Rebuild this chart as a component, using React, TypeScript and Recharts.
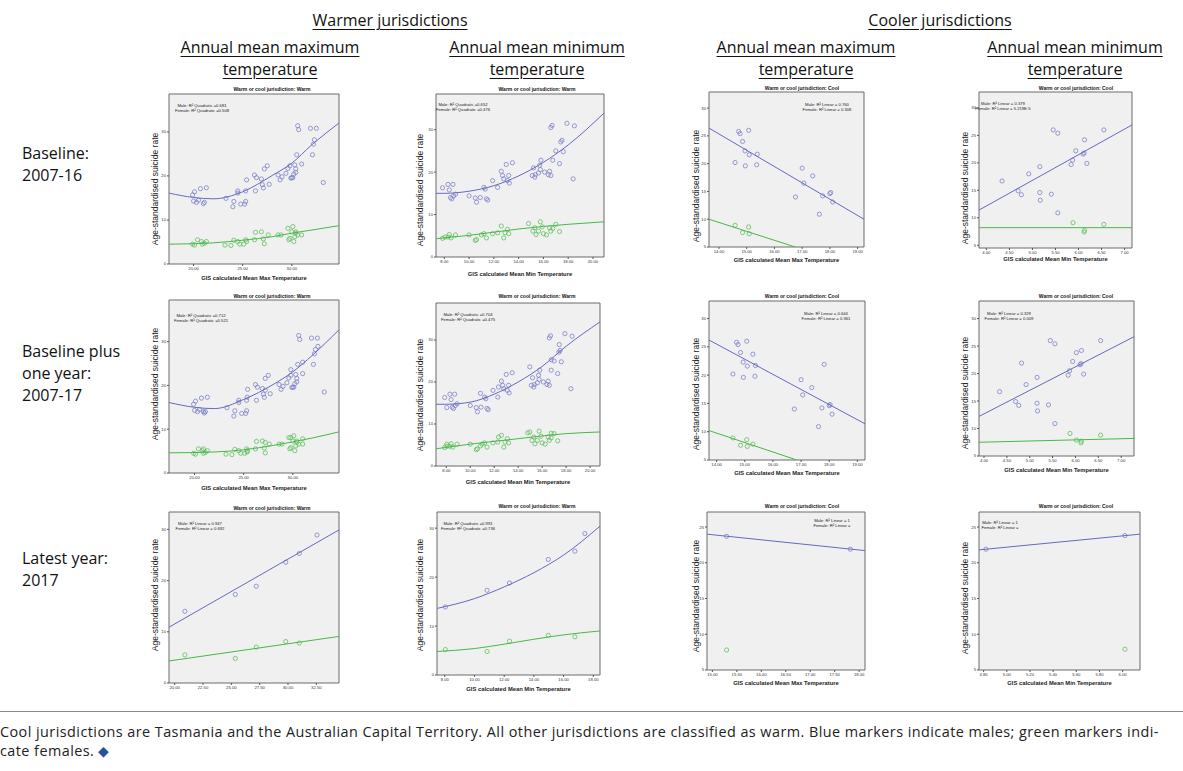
import React from 'react';
import { ScatterChart, Scatter, XAxis, YAxis, ReferenceArea } from 'recharts';

// ---- data: [temperature, rate] ----

// Baseline 2007-16, warm, max temp
const baseWarmMaxMale = [
  [19.9, 15.7], [20.1, 16.4], [20.7, 17.1], [21.3, 17.3], [20.0, 14.3], [20.3, 14.0], [20.5, 14.5], [21.0, 13.7], [21.1, 14.0],
  [23.3, 14.9], [24.0, 13.0], [24.1, 14.2], [24.5, 16.1], [24.5, 16.6], [24.8, 13.6], [25.2, 13.6], [25.3, 14.2], [25.3, 16.6], [25.4, 19.1],
  [26.3, 16.6], [26.2, 20.2], [26.4, 19.6], [26.9, 19.3], [27.0, 18.0], [27.1, 17.3], [27.2, 21.6], [27.5, 22.3], [27.7, 18.1],
  [28.6, 20.2], [28.8, 19.1], [29.0, 19.8], [29.4, 20.6], [29.6, 21.7], [29.8, 22.3], [29.9, 19.5], [30.0, 19.6], [30.1, 19.6],
  [30.2, 20.4], [30.3, 22.5], [30.4, 21.6], [30.4, 20.8], [30.5, 24.8], [30.6, 31.4], [30.7, 30.5], [31.0, 22.7], [31.9, 30.8],
  [32.1, 24.8], [32.2, 27.2], [32.3, 28.2], [32.5, 30.8], [33.2, 18.5],
];
const baseWarmMaxFemale = [
  [19.9, 4.5], [20.1, 4.3], [20.4, 5.5], [20.8, 5.1], [21.1, 4.7], [21.3, 5.1], [20.9, 4.5], [23.2, 4.3], [23.8, 4.2],
  [24.1, 5.4], [24.5, 5.1], [24.7, 4.5], [25.1, 4.5], [25.3, 5.5], [25.4, 5.1], [26.2, 5.5], [26.3, 7.2], [26.9, 7.3],
  [27.1, 5.7], [27.2, 4.6], [27.6, 6.6], [28.6, 6.6], [28.9, 6.6], [29.6, 8.1], [29.7, 5.5], [29.8, 5.8], [30.0, 7.3],
  [30.1, 8.5], [30.2, 5.1], [30.3, 6.2], [30.4, 7.0], [30.4, 7.3], [30.6, 6.6], [31.0, 6.6],
];

// Baseline 2007-16, warm, min temp
const baseWarmMinMale = [
  [7.86, 16.3], [8.3, 17.1], [8.4, 15.8], [8.5, 14.0], [8.6, 13.7], [8.7, 17.1], [8.75, 14.4], [8.9, 14.8],
  [10.0, 14.4], [10.5, 13.9], [10.6, 12.9], [10.9, 14.0], [11.2, 16.4], [11.3, 16.0], [11.4, 13.7], [11.5, 13.4],
  [11.9, 18.0], [12.3, 16.4], [12.6, 20.2], [12.7, 19.2], [12.8, 18.4], [13.0, 21.8], [13.1, 18.0], [13.2, 19.2],
  [13.25, 17.4], [13.5, 22.2], [15.1, 19.2], [15.2, 21.0], [15.3, 18.8], [15.35, 19.4], [15.6, 19.8], [15.7, 21.6],
  [15.75, 20.6], [15.8, 22.8], [16.1, 20.0], [16.4, 19.4], [16.5, 20.2], [16.6, 19.2], [16.6, 30.5], [16.7, 31.0],
  [16.75, 22.8], [17.0, 25.0], [17.3, 22.0], [17.4, 27.1], [17.5, 27.5], [17.6, 24.8], [17.9, 31.5], [18.4, 18.4], [18.5, 30.9],
];
const baseWarmMinFemale = [
  [7.86, 4.4], [8.06, 4.7], [8.3, 4.7], [8.4, 5.3], [8.55, 4.5], [8.9, 5.2], [10.0, 5.2], [10.5, 3.9], [10.6, 4.1],
  [11.0, 5.2], [11.2, 5.5], [11.4, 4.5], [11.9, 5.5], [12.3, 5.7], [12.6, 7.3], [12.8, 4.5], [12.9, 5.7], [13.1, 6.5],
  [13.2, 5.5], [14.8, 7.9], [15.15, 6.1], [15.3, 6.9], [15.4, 5.3], [15.6, 6.1], [15.75, 8.3], [15.9, 7.1], [16.0, 5.5],
  [16.25, 5.2], [16.5, 6.9], [16.6, 6.1], [16.75, 6.7], [17.0, 7.7], [17.3, 6.0],
];

// Baseline 2007-16, cool, max temp
const baseCoolMaxMale = [
  [14.71, 25.8], [14.76, 25.4], [14.85, 24.0], [14.94, 22.3], [14.58, 20.2], [14.95, 19.6], [15.07, 26.0], [15.09, 21.6],
  [15.38, 21.7], [15.36, 19.8], [16.76, 14.0], [17.0, 19.2], [17.06, 16.5], [17.38, 17.8], [17.62, 10.9], [17.74, 14.2],
  [18.0, 14.6], [18.03, 14.8], [18.1, 13.1],
];
const baseCoolMaxFemale = [[14.58, 8.9], [14.85, 7.6], [15.07, 8.6], [15.09, 7.4]];

// Baseline 2007-16, cool, min temp
const baseCoolMinMale = [
  [4.34, 16.7], [4.69, 14.9], [4.76, 14.2], [4.92, 18.0], [5.16, 19.3], [5.16, 14.6], [5.17, 13.2], [5.41, 14.3],
  [5.45, 26.0], [5.55, 25.4], [5.55, 10.9], [5.84, 19.7], [5.87, 20.5], [5.94, 22.2], [6.1, 21.6], [6.12, 21.8],
  [6.13, 24.2], [6.18, 19.9], [6.55, 26.0],
];
const baseCoolMinFemale = [[5.88, 9.1], [6.12, 7.4], [6.13, 7.7], [6.55, 8.8]];

// Latest year 2017
const lastWarmMaxMale = [[20.9, 14.0], [25.35, 17.3], [27.2, 18.9], [29.8, 23.6], [31.0, 25.3], [32.56, 28.9]];
const lastWarmMaxFemale = [[20.9, 5.5], [25.35, 4.8], [27.2, 7.0], [29.8, 8.1], [31.0, 7.8]];
const lastWarmMinMale = [[8.04, 13.9], [10.85, 17.3], [12.36, 18.8], [14.97, 23.6], [16.76, 25.3], [17.43, 28.9]];
const lastWarmMinFemale = [[8.04, 5.2], [10.85, 4.8], [12.36, 6.9], [14.97, 8.1], [16.76, 7.8]];
const lastCoolMaxMale = [[15.29, 23.7], [17.82, 21.9]];
const lastCoolMaxFemale = [[15.29, 7.8]];
const lastCoolMinMale = [[4.82, 21.9], [6.02, 23.8]];
const lastCoolMinFemale = [[6.02, 7.9]];

// fitted lines (read at a few x positions)
const fitBaseWarmMaxMale = [[17.5, 16.1], [20, 15.1], [22, 14.8], [25, 16.4], [28, 20.1], [30, 22.9], [32, 27.0], [34.8, 32.0]];
const fitBaseWarmMaxFemale = [[17.5, 4.5], [22, 4.8], [25, 5.4], [28, 6.2], [30, 7.0], [32, 7.7], [34.8, 8.7]];
const fitBaseWarmMinMale = [[7.33, 15.0], [8, 15.0], [10, 15.5], [12, 16.8], [14, 19.1], [16, 22.3], [18, 26.4], [20.89, 33.9]];
const fitBaseWarmMinFemale = [[7.33, 4.3], [10, 5.1], [14, 6.6], [18, 7.7], [20.89, 8.3]];
const fitBaseCoolMaxMale = [[13.64, 26.4], [19.23, 10.0]];
const fitBaseCoolMaxFemale = [[13.64, 10.0], [16.75, 5.0]];
const fitBaseCoolMinMale = [[3.84, 11.4], [7.16, 26.9]];
const fitBaseCoolMinFemale = [[3.84, 8.2], [7.16, 8.2]];

const fitPlusWarmMaxMale = [[17.4, 16.1], [20, 15.0], [22, 14.7], [25, 16.8], [28, 20.2], [30, 23.1], [32, 26.9], [34.7, 32.7]];
const fitPlusWarmMaxFemale = [[17.4, 4.6], [22, 4.8], [25, 5.3], [28, 6.3], [30, 7.1], [32, 8.0], [34.7, 9.4]];
const fitPlusWarmMinMale = [[7.14, 14.7], [8, 14.7], [10, 15.2], [12, 17.1], [14, 20.0], [16, 23.7], [18, 28.5], [20.83, 34.3]];
const fitPlusWarmMinFemale = [[7.14, 4.1], [10, 5.2], [14, 6.5], [18, 7.7], [20.83, 8.1]];
const fitPlusCoolMaxMale = [[13.73, 26.2], [19.27, 11.4]];
const fitPlusCoolMaxFemale = [[13.73, 10.2], [16.85, 5.0]];
const fitPlusCoolMinMale = [[3.89, 12.2], [7.28, 26.7]];
const fitPlusCoolMinFemale = [[3.89, 7.5], [7.28, 8.2]];

const fitLastWarmMaxMale = [[19.5, 10.9], [34.5, 29.9]];
const fitLastWarmMaxFemale = [[19.5, 4.3], [34.5, 9.1]];
const fitLastWarmMinMale = [[7.48, 13.6], [10, 15.6], [12, 18.0], [14, 20.9], [16, 24.5], [18.45, 30.4]];
const fitLastWarmMinFemale = [[7.48, 4.8], [10, 5.4], [12, 6.3], [14, 7.3], [16, 8.2], [18.45, 9.0]];
const fitLastCoolMaxMale = [[14.89, 24.0], [18.12, 21.7]];
const fitLastCoolMinMale = [[4.76, 21.8], [6.15, 24.0]];

// tick labels
const warmMaxTicks = [20, 25, 30];
const warmMinTicks = [8, 10, 12, 14, 16, 18, 20];
const coolMaxTicks = [14, 15, 16, 17, 18, 19];
const coolMinTicks = [4, 4.5, 5, 5.5, 6, 6.5, 7];
const lastWarmMaxTicks = [20, 22.5, 25, 27.5, 30, 32.5];
const lastWarmMinTicks = [8, 10, 12, 14, 16, 18];
const lastCoolMaxTicks = [15, 15.5, 16, 16.5, 17, 17.5, 18];
const lastCoolMinTicks = [4.8, 5.0, 5.2, 5.4, 5.6, 5.8, 6.0];
const warmYTicks = [0, 10, 20, 30];
const coolYTicks = [5, 10, 15, 20, 25, 30];
const lastCoolYTicks = [5, 10, 15, 20, 25];

const pts = (a: number[][]) => a.map(([x, y]) => ({ x, y }));

const MALE = '#7e82c9';
const MALE_LINE = '#6569c0';
const FEMALE = '#5fbf5f';
const FEMALE_LINE = '#46b946';
const SPSS_FONT = "'Liberation Sans', Arial, sans-serif";
const HEAD_FONT = "'Open Sans', 'Noto Sans', sans-serif";

const WARM = 'Warm or cool jurisdiction: Warm';
const COOL = 'Warm or cool jurisdiction: Cool';
const MAX_T = 'GIS calculated Mean Max Temperature';
const MIN_T = 'GIS calculated Mean Min Temperature';

const colCenter = [272, 537, 802, 1076];
const yLabelX = [155, 420, 696, 965];

const panels = [
  // row 1
  { col: 0, frame: [169, 94, 339, 264], xd: [17.5, 34.8], xt: warmMaxTicks, yd: [0, 38.6], yt: warmYTicks,
    male: baseWarmMaxMale, female: baseWarmMaxFemale, mFit: fitBaseWarmMaxMale, fFit: fitBaseWarmMaxFemale, curved: true,
    title: WARM, titleY: 89, note: ['Male: R² Quadratic =0.681', 'Female: R² Quadratic =0.508'], noteX: 202, noteY: 105,
    xTitle: MAX_T, xTitleY: 278, yLabelY: 189 },
  { col: 1, frame: [436, 94, 604, 257], xd: [7.33, 20.89], xt: warmMinTicks, yd: [0, 38.4], yt: warmYTicks,
    male: baseWarmMinMale, female: baseWarmMinFemale, mFit: fitBaseWarmMinMale, fFit: fitBaseWarmMinFemale, curved: true,
    title: WARM, titleY: 89, note: ['Male: R² Quadratic =0.652', 'Female: R² Quadratic =0.476'], noteX: 463, noteY: 104,
    xTitle: MIN_T, xTitleY: 274, yLabelY: 190 },
  { col: 2, frame: [709, 92, 864, 247], xd: [13.64, 19.23], xt: coolMaxTicks, yd: [5, 32.9], yt: coolYTicks,
    male: baseCoolMaxMale, female: baseCoolMaxFemale, mFit: fitBaseCoolMaxMale, fFit: fitBaseCoolMaxFemale, curved: false,
    title: COOL, titleY: 88, note: ['Male: R² Linear = 0.760', 'Female: R² Linear = 0.308'], noteX: 827, noteY: 104,
    xTitle: MAX_T, xTitleY: 260, yLabelY: 186 },
  { col: 3, frame: [979, 92, 1132, 248], xd: [3.84, 7.16], xt: coolMinTicks, yd: [4.5, 32.9], yt: coolYTicks,
    male: baseCoolMinMale, female: baseCoolMinFemale, mFit: fitBaseCoolMinMale, fFit: fitBaseCoolMinFemale, curved: false,
    title: COOL, titleY: 88, note: ['Male: R² Linear = 0.379', 'Female: R² Linear = 5.219E-5'], noteX: 1003, noteY: 103,
    xTitle: MIN_T, xTitleY: 259, yLabelY: 188 },
  // row 2 (baseline plus one year = baseline + 2017)
  { col: 0, frame: [169, 300, 339, 473], xd: [17.4, 34.7], xt: warmMaxTicks, yd: [0, 39.5], yt: warmYTicks,
    male: [...baseWarmMaxMale, ...lastWarmMaxMale], female: [...baseWarmMaxFemale, ...lastWarmMaxFemale],
    mFit: fitPlusWarmMaxMale, fFit: fitPlusWarmMaxFemale, curved: true,
    title: WARM, titleY: 296, note: ['Male: R² Quadratic =0.712', 'Female: R² Quadratic =0.521'], noteX: 201, noteY: 315,
    xTitle: MAX_T, xTitleY: 488, yLabelY: 384 },
  { col: 1, frame: [436, 303, 600, 466], xd: [7.14, 20.83], xt: warmMinTicks, yd: [0, 38.8], yt: warmYTicks,
    male: [...baseWarmMinMale, ...lastWarmMinMale], female: [...baseWarmMinFemale, ...lastWarmMinFemale],
    mFit: fitPlusWarmMinMale, fFit: fitPlusWarmMinFemale, curved: true,
    title: WARM, titleY: 296, note: ['Male: R² Quadratic =0.704', 'Female: R² Quadratic =0.475'], noteX: 468, noteY: 314,
    xTitle: MIN_T, xTitleY: 482, yLabelY: 395 },
  { col: 2, frame: [709, 301, 865, 460], xd: [13.73, 19.27], xt: coolMaxTicks, yd: [5, 33.1], yt: coolYTicks,
    male: [...baseCoolMaxMale, ...lastCoolMaxMale], female: [...baseCoolMaxFemale, ...lastCoolMaxFemale],
    mFit: fitPlusCoolMaxMale, fFit: fitPlusCoolMaxFemale, curved: false,
    title: COOL, titleY: 296, note: ['Male: R² Linear = 0.644', 'Female: R² Linear = 0.361'], noteX: 826, noteY: 313,
    xTitle: MAX_T, xTitleY: 473, yLabelY: 394 },
  { col: 3, frame: [979, 301, 1134, 456], xd: [3.89, 7.28], xt: coolMinTicks, yd: [5, 33.2], yt: coolYTicks,
    male: [...baseCoolMinMale, ...lastCoolMinMale], female: [...baseCoolMinFemale, ...lastCoolMinFemale],
    mFit: fitPlusCoolMinMale, fFit: fitPlusCoolMinFemale, curved: false,
    title: COOL, titleY: 296, note: ['Male: R² Linear = 0.329', 'Female: R² Linear = 0.009'], noteX: 1009, noteY: 313,
    xTitle: MIN_T, xTitleY: 470, yLabelY: 393 },
  // row 3
  { col: 0, frame: [169, 512, 339, 683], xd: [19.5, 34.5], xt: lastWarmMaxTicks, yd: [0, 33.4], yt: warmYTicks,
    male: lastWarmMaxMale, female: lastWarmMaxFemale, mFit: fitLastWarmMaxMale, fFit: fitLastWarmMaxFemale, curved: false,
    title: WARM, titleY: 508, note: ['Male: R² Linear = 0.947', 'Female: R² Linear = 0.692'], noteX: 200, noteY: 523,
    xTitle: '', xTitleY: 0, yLabelY: 595 },
  { col: 1, frame: [437, 512, 600, 675], xd: [7.48, 18.45], xt: lastWarmMinTicks, yd: [0, 33.3], yt: warmYTicks,
    male: lastWarmMinMale, female: lastWarmMinFemale, mFit: fitLastWarmMinMale, fFit: fitLastWarmMinFemale, curved: true,
    title: WARM, titleY: 506, note: ['Male: R² Quadratic =0.991', 'Female: R² Quadratic =0.736'], noteX: 468, noteY: 523,
    xTitle: MIN_T, xTitleY: 689, yLabelY: 595 },
  { col: 2, frame: [707, 512, 865, 670], xd: [14.89, 18.12], xt: lastCoolMaxTicks, yd: [5, 27.1], yt: lastCoolYTicks,
    male: lastCoolMaxMale, female: lastCoolMaxFemale, mFit: fitLastCoolMaxMale, fFit: [], curved: false,
    title: COOL, titleY: 506, note: ['Male: R² Linear = 1', 'Female: R² Linear ='], noteX: 832, noteY: 520,
    xTitle: MAX_T, xTitleY: 683, yLabelY: 596 },
  { col: 3, frame: [979, 512, 1140, 670], xd: [4.76, 6.15], xt: lastCoolMinTicks, yd: [5, 27.1], yt: lastCoolYTicks,
    male: lastCoolMinMale, female: lastCoolMinFemale, mFit: fitLastCoolMinMale, fFit: [], curved: false,
    title: COOL, titleY: 506, note: ['Male: R² Linear = 1', 'Female: R² Linear ='], noteX: 1000, noteY: 522,
    xTitle: MIN_T, xTitleY: 683, yLabelY: 598 },
];

const ring = (color: string) => (props: any) =>
  <circle cx={props.cx} cy={props.cy} r={2.1} fill="none" stroke={color} strokeWidth={0.8} />;
const noMark = () => <g />;

const ML = 30;
const MT = 4;
const MR = 4;
const MB = 20;

function Panel({ p }: { p: any }) {
  const [l, t, r, b] = p.frame;
  const fw = r - l;
  const fh = b - t;
  const tickStyle = { fontSize: 4.2, fill: '#333', fontFamily: SPSS_FONT };
  const xFmt = (v: number) => v.toFixed(2);
  return (
    <div style={{ position: 'absolute', left: l - ML, top: t - MT }}>
      <ScatterChart width={fw + ML + MR} height={fh + MT + MB} margin={{ top: MT, right: MR, bottom: 0, left: 0 }}>
        <XAxis type="number" dataKey="x" domain={p.xd} ticks={p.xt} allowDataOverflow interval={0}
          height={MB} tickFormatter={xFmt} tick={tickStyle} tickSize={2} tickMargin={1}
          axisLine={false} tickLine={{ stroke: '#555' }} />
        <YAxis type="number" dataKey="y" domain={p.yd} ticks={p.yt} allowDataOverflow interval={0}
          width={ML} tick={tickStyle} tickSize={2} tickMargin={1}
          axisLine={false} tickLine={{ stroke: '#555' }} />
        <ReferenceArea x1={p.xd[0]} x2={p.xd[1]} y1={p.yd[0]} y2={p.yd[1]} fill="#f0f0f0" fillOpacity={1}
          stroke="#6a6a6a" strokeWidth={1} />
        <Scatter data={pts(p.male)} shape={ring(MALE)} isAnimationActive={false} />
        <Scatter data={pts(p.female)} shape={ring(FEMALE)} isAnimationActive={false} />
        <Scatter data={pts(p.mFit)} shape={noMark} line={{ stroke: MALE_LINE, strokeWidth: 1 }}
          lineJointType={p.curved ? 'monotoneX' : 'linear'} isAnimationActive={false} />
        {p.fFit.length > 0 && (
          <Scatter data={pts(p.fFit)} shape={noMark} line={{ stroke: FEMALE_LINE, strokeWidth: 1 }}
            lineJointType={p.curved ? 'monotoneX' : 'linear'} isAnimationActive={false} />
        )}
      </ScatterChart>
    </div>
  );
}

function Centered({ cx, cy, children, size = 16 }: any) {
  return (
    <div style={{ position: 'absolute', left: cx - 200, top: cy - 11, width: 400, textAlign: 'center',
      fontSize: size, lineHeight: '22px', fontFamily: HEAD_FONT, color: '#111', whiteSpace: 'nowrap' }}>
      <span style={{ textDecoration: 'underline', textUnderlineOffset: 3 }}>{children}</span>
    </div>
  );
}

const colHeadX = [270, 537, 806, 1075];
const colHeads = [
  ['Annual mean maximum', 'temperature'],
  ['Annual mean minimum', 'temperature'],
  ['Annual mean maximum', 'temperature'],
  ['Annual mean minimum', 'temperature'],
];
const rowLabels = [
  { y: 153, lines: ['Baseline:', '2007-16'] },
  { y: 351, lines: ['Baseline plus', 'one year:', '2007-17'] },
  { y: 558, lines: ['Latest year:', '2017'] },
];

export default function App() {
  return (
    <div style={{ position: 'absolute', left: 0, top: 0, width: 1183, height: 771, background: '#fff', overflow: 'hidden' }}>
      <Centered cx={390} cy={20}>Warmer jurisdictions</Centered>
      <Centered cx={940} cy={20}>Cooler jurisdictions</Centered>
      {colHeads.map((h, i) => (
        <React.Fragment key={i}>
          <Centered cx={colHeadX[i]} cy={47}>{h[0]}</Centered>
          <Centered cx={colHeadX[i]} cy={69}>{h[1]}</Centered>
        </React.Fragment>
      ))}
      {rowLabels.map((r, i) => (
        <div key={i} style={{ position: 'absolute', left: 22, top: r.y - 11, fontFamily: HEAD_FONT, fontSize: 16,
          lineHeight: '22px', color: '#111', whiteSpace: 'nowrap' }}>
          {r.lines.map((s) => <div key={s}>{s}</div>)}
        </div>
      ))}

      {panels.map((p, i) => <Panel key={i} p={p} />)}

      <svg width={1183} height={771} style={{ position: 'absolute', left: 0, top: 0, pointerEvents: 'none' }}
        fontFamily={SPSS_FONT}>
        {panels.map((p, i) => (
          <g key={i}>
            <text x={colCenter[p.col]} y={p.titleY} fontSize={5} fontWeight="bold" textAnchor="middle"
              dominantBaseline="central" fill="#111">{p.title}</text>
            <text x={p.noteX} y={p.noteY} fontSize={4.2} textAnchor="middle" dominantBaseline="central" fill="#222">
              {p.note[0]}
            </text>
            <text x={p.noteX} y={p.noteY + 5} fontSize={4.2} textAnchor="middle" dominantBaseline="central" fill="#222">
              {p.note[1]}
            </text>
            {p.xTitle && (
              <text x={(p.frame[0] + p.frame[2]) / 2} y={p.xTitleY} fontSize={5.8} fontWeight="bold"
                textAnchor="middle" dominantBaseline="central" fill="#222">{p.xTitle}</text>
            )}
            <text x={yLabelX[p.col]} y={p.yLabelY} fontSize={8.5} textAnchor="middle" dominantBaseline="central"
              fill="#222" transform={`rotate(-90 ${yLabelX[p.col]} ${p.yLabelY})`}>Age-standardised suicide rate</text>
          </g>
        ))}
      </svg>

      <div style={{ position: 'absolute', left: 0, top: 711, width: 1183, borderTop: '1px solid #8a8a8a' }} />
      <div style={{ position: 'absolute', left: 0, top: 722, width: 1183, fontFamily: HEAD_FONT, fontSize: 14.4,
        letterSpacing: 0.45, lineHeight: '19px', color: '#222', whiteSpace: 'nowrap' }}>
        <div>Cool jurisdictions are Tasmania and the Australian Capital Territory. All other jurisdictions are classified as warm. Blue markers indicate males; green markers indi-</div>
        <div>cate females. <span style={{ color: '#2b4fa0' }}>◆</span></div>
      </div>
    </div>
  );
}
